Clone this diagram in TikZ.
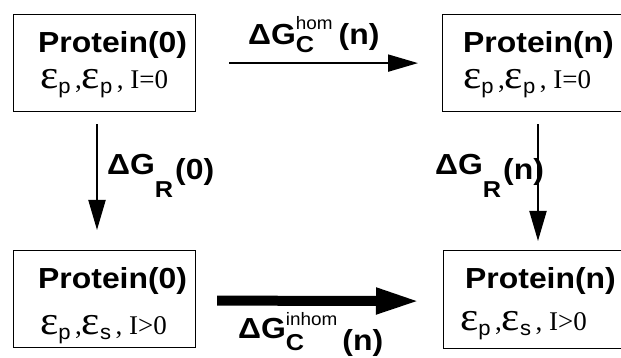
\documentclass[tikz,border=0pt]{standalone}
\usepackage{fontspec}
\setmainfont{Liberation Serif}
\setsansfont{Liberation Sans}
\newfontface\hvb[FakeStretch=1.1]{Liberation Sans Bold}
\newfontface\hvr[FakeStretch=1.05]{Liberation Sans}
\usetikzlibrary{arrows.meta}
\newcommand\bsf[1]{\fontsize{#1}{#1}\hvb}
\newcommand\rsf[1]{\fontsize{#1}{#1}\hvr}
\newcommand\SupSub[4]{\setbox0\hbox{#2}\setbox2\hbox{#4}\dimen0=\wd0 \ifdim\wd2>\dimen0 \dimen0=\wd2 \fi\hbox to\dimen0{\rlap{\raise#1\box0}\lower#3\box2\hfil}}
\newcommand\eps[1]{{\fontsize{28}{28}\selectfont\scalebox{1.55}[1.45]{ε}}\raisebox{-5pt}{\rsf{21}#1}}
\newcommand\epsline[3]{\fontsize{27}{27}\selectfont\eps{#1}\,,\eps{#2}\,, I#3}
\begin{document}
\begin{tikzpicture}[x=1pt,y=-1pt,
  box/.style={draw,line width=1.2pt,inner sep=0pt,anchor=north west},
  txt/.style={anchor=base west,inner sep=0pt},
  thin/.style={line width=2pt,-{Triangle[length=30pt,width=17pt]}},
  thick/.style={line width=10pt,-{Triangle[length=44pt,width=24pt]}}]
\useasboundingbox (0,0) rectangle (621,358);
% boxes
\node[box,minimum width=182pt,minimum height=97pt] (a) at (13,14) {};
\node[box,minimum width=200pt,minimum height=97pt] (b) at (442,14) {};
\node[box,minimum width=182pt,minimum height=97pt] (c) at (13,250) {};
\node[box,minimum width=200pt,minimum height=98pt] (d) at (443,250) {};
% box texts
\node[txt] (a1) at (38,53) {\bsf{29}Protein(0)};
\node[txt] (a2) at (40,89) {\epsline{p}{p}{=0}};
\node[txt] (b1) at (463,53) {\bsf{29}Protein(n)};
\node[txt] (b2) at (463,89) {\epsline{p}{p}{=0}};
\node[txt] (c1) at (38,288) {\bsf{29}Protein(0)};
\node[txt] (c2) at (40,334) {\epsline{p}{s}{>0}};
\node[txt] (d1) at (465,288) {\bsf{29}Protein(n)};
\node[txt] (d2) at (460,330) {\epsline{p}{s}{>0}};
% connectors
\draw[thin] ([xshift=33pt]a.east) -- ([xshift=-24pt]b.west);
\draw[thin] ([xshift=84pt,yshift=-12pt]a.south west) -- ([xshift=84pt,yshift=20pt]c.north west);
\draw[thin] ([xshift=96pt,yshift=-12pt]b.south west) -- ([xshift=95pt,yshift=9pt]d.north west);
\draw[thick] ([xshift=21pt,yshift=-1.5pt]c.east) -- ([xshift=-23pt,yshift=-1.5pt]d.west);
% labels
\node[txt] (l1) at (248,45) {\bsf{29}ΔG\SupSub{15pt}{\rsf{18}hom}{8pt}{\bsf{23}C}\hspace{6pt}(n)};
\node[txt] (l2) at (107,175) {\bsf{29}ΔG\SupSub{0pt}{}{23pt}{\bsf{23}R}\hspace{2pt}\raisebox{-5pt}{(0)}};
\node[txt] (l3) at (435,175) {\bsf{29}ΔG\SupSub{0pt}{}{23pt}{\bsf{23}R}\hspace{2pt}\raisebox{-5pt}{(n)}};
\node[txt] (l4) at (238,338) {\bsf{29}ΔG\SupSub{13pt}{\rsf{18}inhom}{12pt}{\bsf{23}C}\hspace{5pt}\raisebox{-12pt}{(n)}};
\end{tikzpicture}
\end{document}
